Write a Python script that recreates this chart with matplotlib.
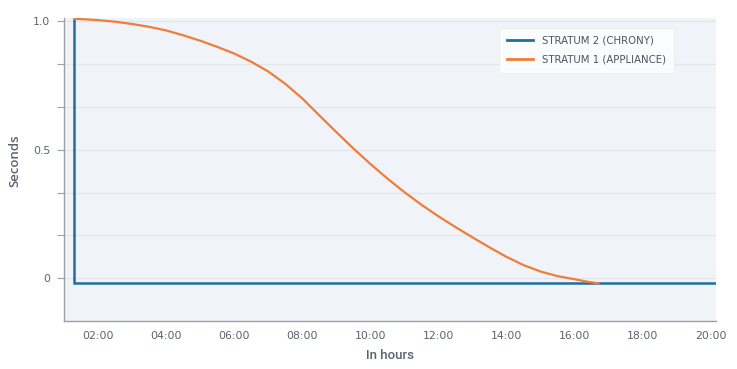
import matplotlib
matplotlib.use("Agg")
import matplotlib.pyplot as plt
from matplotlib.ticker import FixedLocator, FuncFormatter

# ---- data ----
chrony_hours = [1.3, 1.3, 20.15]
chrony_seconds = [1.01, -0.02, -0.02]

appliance_hours = [1.3, 1.65, 2, 2.5, 3, 3.5, 4, 4.5, 5, 5.5, 6, 6.5, 7, 7.5, 8, 8.5, 9, 9.5,
                   10, 10.5, 11, 11.5, 12, 12.5, 13, 13.5, 14, 14.5, 15, 15.5, 16, 16.35, 16.7]
appliance_seconds = [1.01, 1.008, 1.005, 0.999, 0.99, 0.979, 0.965, 0.946, 0.925, 0.901,
                     0.875, 0.843, 0.805, 0.757, 0.70, 0.634, 0.569, 0.505, 0.445, 0.388,
                     0.335, 0.286, 0.241, 0.199, 0.159, 0.12, 0.083, 0.051, 0.026, 0.008,
                     -0.004, -0.013, -0.02]

series_labels = ["STRATUM 2 (CHRONY)", "STRATUM 1 (APPLIANCE)"]
x_ticks = [2, 4, 6, 8, 10, 12, 14, 16, 18, 20]
y_ticks = [0, 1/6, 2/6, 0.5, 4/6, 5/6, 1.0]
y_labeled = {0: "0", 0.5: "0.5", 1.0: "1.0"}

blue = "#1f6e9e"
orange = "#ef7d3a"
text_c = "#5a636d"

fig = plt.figure(figsize=(7.37, 3.69), dpi=100)
ax = fig.add_axes([0.0868, 0.130, 0.9715 - 0.0868, 0.951 - 0.130])
ax.set_facecolor("#f0f3f8")

ax.plot(chrony_hours, chrony_seconds, color=blue, lw=1.8, label=series_labels[0],
        solid_joinstyle="miter", zorder=3)
ax.plot(appliance_hours, appliance_seconds, color=orange, lw=1.6, label=series_labels[1],
        zorder=4)

ax.set_xlim(1.0, 20.15)
ax.set_ylim(-1/6, 1.013)

ax.yaxis.set_major_locator(FixedLocator(y_ticks))
def yfmt(v, pos):
    for k, s in y_labeled.items():
        if abs(v - k) < 1e-6:
            return s
    return ""
ax.yaxis.set_major_formatter(FuncFormatter(yfmt))
ax.xaxis.set_major_locator(FixedLocator(x_ticks))
ax.xaxis.set_major_formatter(FuncFormatter(lambda v, p: f"{int(round(v)):02d}:00"))

ax.grid(axis="y", color="#e2e6ec", lw=0.9)
ax.set_axisbelow(True)

for s in ["top", "right"]:
    ax.spines[s].set_visible(False)
for s in ["left", "bottom"]:
    ax.spines[s].set_color("#9aa1a8")
    ax.spines[s].set_linewidth(1.0)

ax.tick_params(axis="y", length=5, color="#9aa1a8", labelsize=7.8, labelcolor=text_c, pad=5)
ax.tick_params(axis="x", length=0, labelsize=7.8, labelcolor=text_c, pad=7)
for lab in ax.get_xticklabels() + ax.get_yticklabels():
    lab.set_family("DejaVu Sans")

ax.set_ylabel("Seconds", fontsize=9.5, color=text_c, family="Open Sans", fontweight="semibold")
ax.yaxis.set_label_coords(-0.065, 0.528)
ax.set_xlabel("In hours", fontsize=9.5, color=text_c, family="Roboto", fontweight="medium", labelpad=6)

leg = ax.legend(loc="upper right", bbox_to_anchor=(0.944, 0.985), frameon=True, fancybox=True,
                handlelength=2.6, handletextpad=0.9, borderpad=0.8, labelspacing=0.85,
                prop={"family": "DejaVu Sans", "size": 7.3})
leg.get_frame().set_facecolor("white")
leg.get_frame().set_edgecolor("#e8ebef")
leg.get_frame().set_linewidth(0.6)
for t in leg.get_texts():
    t.set_color("#4a535c")
for l in leg.get_lines():
    l.set_linewidth(2.0)

fig.savefig("out.png", dpi=100, facecolor="white")
